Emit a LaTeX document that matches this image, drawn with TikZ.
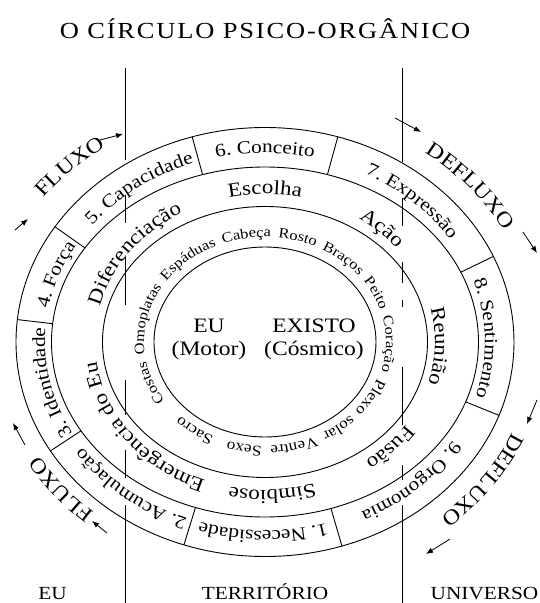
\documentclass[tikz,border=0pt]{standalone}
\usepackage{fontspec}
\setmainfont{Liberation Serif}[FakeStretch=1.15]
\usetikzlibrary{decorations.text,arrows.meta}
\newcommand\fA{\fontsize{18.5}{20}\selectfont}
\newcommand\fB{\fontsize{20}{22}\selectfont}
\newcommand\fC{\fontsize{14.3}{16}\selectfont}
\newcommand\fE{\fontsize{15}{17}\selectfont}
\newcommand\fD{\fontsize{21}{23}\selectfont}
% #1 x radius, #2 y radius, #3 centre angle, #4 half span, #5 font, #6 text
\newcommand\ringtext[6]{%
  \path[decorate,decoration={text along path,text align=center,text={|#5|#6}}]
    ({#3+#4}:#1pt and #2pt) arc[start angle={#3+#4}, end angle={#3-#4}, x radius=#1pt, y radius=#2pt];}
\begin{document}
\begin{tikzpicture}[x=1pt,y=1pt,
  ring/.style={line width=0.9pt},
  vline/.style={line width=0.8pt},
  flow/.style={-{Latex[length=7pt,width=5.5pt]},line width=0.8pt}]
\useasboundingbox (-265,-261) rectangle (275,342);

% vertical lines (with gaps where texts cross)
\foreach \a/\b in {68/160,195/223,257/305,380/415,450/478,505/603}
  \draw[vline] (-140,{342-\a}) -- (-140,{342-\b});
\foreach \a/\b in {68/162,198/226,262/283,300/307,367/425,465/480,505/603}
  \draw[vline] (137,{342-\a}) -- (137,{342-\b});

% ellipses
\draw[ring] (0,0) ellipse [x radius=249pt, y radius=214.5pt];
\draw[ring] (0,0) ellipse [x radius=213.5pt, y radius=175pt];
\draw[ring] (0,0) ellipse [x radius=162.5pt, y radius=135.5pt];
\draw[ring] (0,0) ellipse [x radius=111pt, y radius=95pt];

% dividers of the numbered ring
\foreach \t in {73,107,147.5,174,210.5,251,288,340,23.5}
  \draw[ring] (\t:213.5pt and 175pt) -- (\t:249pt and 214.5pt);

% numbered ring
\ringtext{220}{189}{90}{25}{\fA}{6. Conceito}
\ringtext{220}{189}{126}{30}{\fA}{5. Capacidade}
\ringtext{220}{189}{160}{25}{\fA}{4. Força}
\ringtext{220}{189}{192}{30}{\fA}{3. Identidade}
\ringtext{220}{189}{231}{30}{\fA}{2. Acumulação}
\ringtext{220}{189}{269.5}{30}{\fA}{1. Necessidade}
\ringtext{220}{189}{313}{30}{\fA}{9. Orgonomia}
\ringtext{220}{189}{1}{30}{\fA}{8. Sentimento}
\ringtext{220}{189}{47}{30}{\fA}{7. Expressão}

% second ring
\ringtext{170}{148}{90}{30}{\fB}{Escolha}
\ringtext{170}{148}{47}{30}{\fB}{Ação}
\ringtext{170}{148}{358.5}{30}{\fB}{Reunião}
\ringtext{170}{148}{317}{30}{\fB}{Fusão}
\ringtext{170}{148}{272.5}{30}{\fB}{Simbiose}
\ringtext{170}{148}{218}{40}{\fB}{Emergência do Eu}
\ringtext{170}{148}{143}{32}{\fB}{Diferenciação}

% body ring
\path[decorate,decoration={text along path,text align={fit to path stretching spaces},
  text={|\fC|Costas Omoplatas Espáduas Cabeça Rosto Braços Peito Coração}}]
  (214:121pt and 105pt) arc[start angle=214, end angle=-16, x radius=121pt, y radius=105pt];
\ringtext{120}{104}{329.5}{25}{\fE}{Plexo}
\ringtext{120}{104}{307.5}{25}{\fE}{solar}
\ringtext{120}{104}{284}{25}{\fE}{Ventre}
\ringtext{120}{104}{260}{25}{\fE}{Sexo}
\ringtext{120}{104}{234.5}{25}{\fE}{Sacro}

% flow labels
\ringtext{277}{239}{134.7}{25}{\fD}{FLUXO}
\ringtext{272}{234}{40.5}{28}{\fD}{DEFLUXO}
\ringtext{261.5}{225}{219.1}{25}{\fD}{FLUXO}
\ringtext{268.7}{231.4}{324.6}{28}{\fD}{DEFLUXO}

% flow arrows
\coordinate (ul1s) at (-250,112);  \coordinate (ul1e) at (-237,123);
\coordinate (ul2s) at (-165,202);  \coordinate (ul2e) at (-142,208);
\coordinate (ur1s) at (130,224);   \coordinate (ur1e) at (156,210);
\coordinate (ur2s) at (258,110);   \coordinate (ur2e) at (272,89);
\coordinate (ll1s) at (-240,-103); \coordinate (ll1e) at (-252,-81);
\coordinate (ll2s) at (-158,-191); \coordinate (ll2e) at (-173,-179);
\coordinate (lr1s) at (272,-58);   \coordinate (lr1e) at (262,-82);
\coordinate (lr2s) at (185,-197);  \coordinate (lr2e) at (161,-212);
\foreach \n in {ul1,ul2,ur1,ur2,ll1,ll2,lr1,lr2}
  \draw[flow] (\n s) -- (\n e);

% centre texts
\node[font=\fontsize{20.5}{23}\selectfont, align=center] (eu) at (-56,3) {EU\\(Motor)};
\node[font=\fontsize{20.5}{23}\selectfont, align=center] (existo) at (49,3) {EXISTO\\(Cósmico)};

% title
\node[font=\fontsize{23}{25}\selectfont\addfontfeatures{LetterSpace=8}, anchor=base] (title) at (0,303) {O CÍRCULO PSICO-ORGÂNICO};

% bottom labels
\node[font=\fontsize{18.5}{20}\selectfont, anchor=base] (leu) at (-212.5,-257) {EU};
\node[font=\fontsize{18.5}{20}\selectfont, anchor=base] (lter) at (0,-257) {TERRITÓRIO};
\node[font=\fontsize{18.5}{20}\selectfont, anchor=base] (luni) at (219.5,-257) {UNIVERSO};
\end{tikzpicture}
\end{document}
